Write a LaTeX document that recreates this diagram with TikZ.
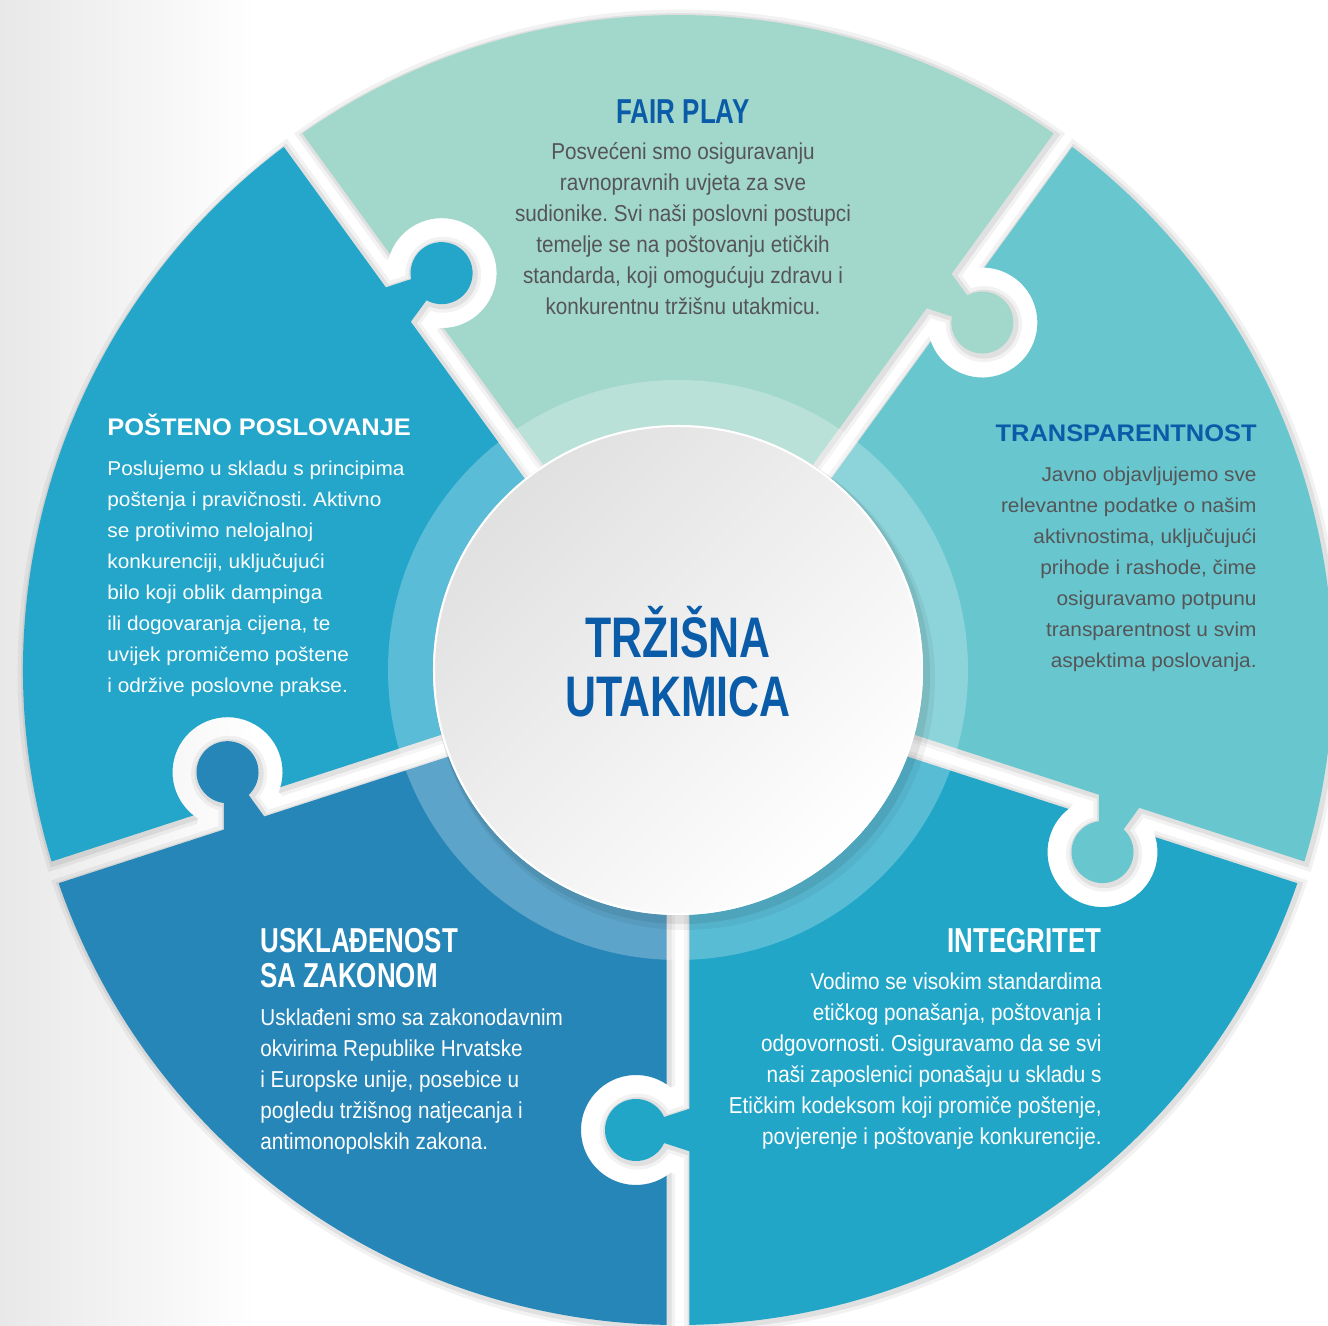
\documentclass[tikz,border=0pt]{standalone}
\usepackage{fontspec}
\setmainfont{Liberation Sans}
\newfontfamily\narrowfont[FakeStretch=0.9]{Liberation Sans}
\newfontfamily\narrowboldfont[FakeStretch=0.75]{Liberation Sans}
\newfontfamily\widefont[FakeStretch=1.04]{Liberation Sans}
\newfontfamily\wideboldfont[FakeStretch=1.06]{Liberation Sans}
\usetikzlibrary{calc}
\frenchspacing

\definecolor{fairplay}{HTML}{A2D8CB}
\definecolor{transpar}{HTML}{68C6CE}
\definecolor{integr}{HTML}{22A6C8}
\definecolor{uskla}{HTML}{2686B7}
\definecolor{posten}{HTML}{23A6C9}
\definecolor{headblue}{HTML}{0A5CA8}
\definecolor{bodygray}{HTML}{555557}

\tikzset{
  halo/.style={preaction={draw=black,opacity=0.05,line width=7pt,transform canvas={shift={(0.8pt,-0.8pt)}}},
    preaction={draw=black,opacity=0.07,line width=3.5pt,transform canvas={shift={(0.8pt,-0.8pt)}}}},
  narrowhead/.style={inner sep=0pt,font=\narrowboldfont\bfseries\fontsize{17.3}{17.5}\selectfont},
  narrowbody/.style={inner sep=0pt,font=\narrowfont\fontsize{11.5}{15.5}\selectfont},
  widehead/.style={inner sep=0pt,font=\wideboldfont\bfseries\fontsize{12}{15.5}\selectfont},
  widebody/.style={inner sep=0pt,font=\widefont\fontsize{10}{15.5}\selectfont}
}

\begin{document}
\begin{tikzpicture}[x=0.5pt,y=0.5pt]
\useasboundingbox (-678,-656) rectangle (650,670);
\fill[white] (-678,-656) rectangle (650,670);
\shade[left color=black!9,right color=white] (-678,-656) rectangle (-420,670);

\foreach \ang/\col in {90/fairplay,18/transpar,-54/integr,-126/uskla,162/posten}{
\begin{scope}[rotate=\ang-90,even odd rule]
\clip (-1500,-1500) rectangle (1500,1500) ($(126:460)+(36:42)$) circle (55);
\clip (-1500,-1500) rectangle (1500,1500) ($(126:412)+(216:5)$) -- ($(126:423)+(36:20)$) -- ($(126:423)+(36:42)$) -- ($(126:497)+(36:42)$) -- ($(126:497)+(36:20)$) -- ($(126:508)+(216:5)$) -- cycle;
\fill[\col,halo,nonzero rule] (90:19.6) -- (55:655) arc[start angle=55,end angle=125,radius=655] -- cycle
  ($(54:460)+(-36:42)$) circle (31)
  ($(54:436)+(144:20)$) -- ($(54:447)+(-36:14)$) -- ($(54:447)+(-36:42)$) -- ($(54:473)+(-36:42)$) -- ($(54:473)+(-36:14)$) -- ($(54:484)+(144:20)$) -- cycle;
\end{scope}
}

\fill[white,opacity=0.25] (0,0) circle (290);
\foreach \rad/\opa/\dx/\dy in {250/0.05/7/-10,248/0.07/4/-6}{
\fill[black,opacity=\opa] (\dx,\dy) circle (\rad);
}
\shade[top color=black!12,bottom color=white,shading angle=45] (0,0) circle (245);
\draw[white,line width=1pt] (0,0) circle (244);

\node[font=\narrowboldfont\bfseries\fontsize{28.6}{29.5}\selectfont,text=headblue,inner sep=0pt,anchor=base] (title) at (0,12) {\begin{tabular}[t]{@{}c@{}}TRŽIŠNA\\UTAKMICA\end{tabular}};

\node[narrowhead,text=headblue,anchor=base] (fairhead) at (5,546) {FAIR PLAY};
\node[narrowbody,text=bodygray,anchor=base] (fairbody) at (5,510) {\begin{tabular}[t]{@{}c@{}}Posvećeni smo osiguravanju\\ravnopravnih uvjeta za sve\\sudionike. Svi naši poslovni postupci\\temelje se na poštovanju etičkih\\standarda, koji omogućuju zdravu i\\konkurentnu tržišnu utakmicu.\end{tabular}};

\node[widehead,text=white,anchor=base west] (postenhead) at (-571,234) {POŠTENO POSLOVANJE};
\node[widebody,text=white,anchor=base west] (postenbody) at (-571,194) {\begin{tabular}[t]{@{}l@{}}Poslujemo u skladu s principima\\poštenja i pravičnosti. Aktivno\\se protivimo nelojalnoj\\konkurenciji, uključujući\\bilo koji oblik dampinga\\ili dogovaranja cijena, te\\uvijek promičemo poštene\\i održive poslovne prakse.\end{tabular}};

\node[widehead,text=headblue,anchor=base east] (transhead) at (579,228) {TRANSPARENTNOST};
\node[widebody,text=bodygray,anchor=base east] (transbody) at (579,188) {\begin{tabular}[t]{@{}r@{}}Javno objavljujemo sve\\relevantne podatke o našim\\aktivnostima, uključujući\\prihode i rashode, čime\\osiguravamo potpunu\\transparentnost u svim\\aspektima poslovanja.\end{tabular}};

\node[narrowhead,text=white,anchor=base west] (usklhead) at (-418,-283) {\begin{tabular}[t]{@{}l@{}}USKLAĐENOST\\SA ZAKONOM\end{tabular}};
\node[narrowbody,text=white,anchor=base west] (usklbody) at (-418,-356) {\begin{tabular}[t]{@{}l@{}}Usklađeni smo sa zakonodavnim\\okvirima Republike Hrvatske\\i Europske unije, posebice u\\pogledu tržišnog natjecanja i\\antimonopolskih zakona.\end{tabular}};

\node[narrowhead,text=white,anchor=base east] (integhead) at (424,-283) {INTEGRITET};
\node[narrowbody,text=white,anchor=base east] (integbody) at (424,-320) {\begin{tabular}[t]{@{}r@{}}Vodimo se visokim standardima\\etičkog ponašanja, poštovanja i\\odgovornosti. Osiguravamo da se svi\\naši zaposlenici ponašaju u skladu s\\Etičkim kodeksom koji promiče poštenje,\\povjerenje i poštovanje konkurencije.\end{tabular}};
\end{tikzpicture}
\end{document}
